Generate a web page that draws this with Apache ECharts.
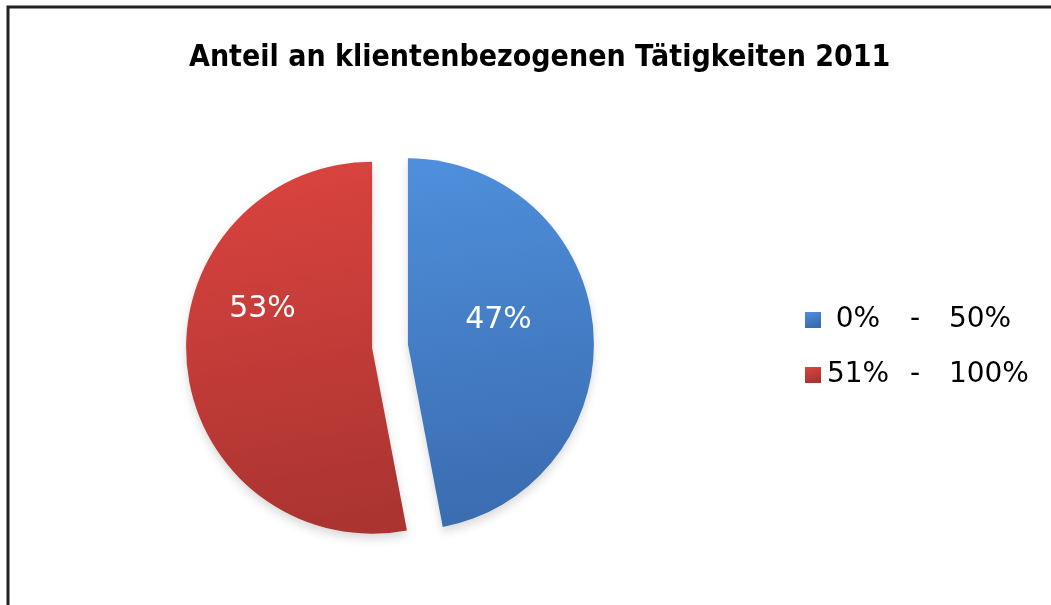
<!DOCTYPE html>
<html>
<head>
<meta charset="utf-8">
<script src="https://cdn.jsdelivr.net/npm/echarts@6/dist/echarts.min.js"></script>
<style>
  html, body { margin: 0; padding: 0; background: #fff; }
  #chart { width: 1051px; height: 605px; }
</style>
</head>
<body>
<div id="chart"></div>
<script>
// Daten
const categories = ['0%  -  50%', '51%  -  100%']
const values = [47, 53]
const sliceColors = [
  ['#4f8fdc', '#3a6cb0'],
  ['#dc443f', '#ab3431']
]

const chart = echarts.init(document.getElementById('chart'))

// Label-Verschiebung: horizontal per padding, vertikal per leerer Zusatzzeile
const labelPads = [[0, 10, 0, 0], [0, 28, 0, 0]]
const labelLift = [30, 96]

const pieData = categories.map((name, i) => ({
  name: name,
  value: values[i],
  selected: true,
  itemStyle: {
    color: new echarts.graphic.LinearGradient(0, 0, 0.3, 1, [
      { offset: 0, color: sliceColors[i][0] },
      { offset: 1, color: sliceColors[i][1] }
    ])
  },
  label: {
    padding: labelPads[i],
    formatter: '{v|{d}%}\n{g|}',
    rich: {
      v: { color: '#fff', fontFamily: 'DejaVu Sans', fontSize: 30, lineHeight: 34 },
      g: { height: labelLift[i], lineHeight: labelLift[i], fontSize: 1 }
    }
  }
}))

const option = {
  backgroundColor: '#fff',
  animation: false,
  title: {
    text: 'Anteil an klientenbezogenen Tätigkeiten 2011',
    left: 184,
    top: 38,
    textStyle: {
      fontFamily: 'DejaVu Sans Condensed',
      fontWeight: 'bold',
      fontSize: 30,
      color: '#000'
    }
  },
  legend: {
    orient: 'vertical',
    left: 805,
    top: 306,
    padding: 0,
    itemWidth: 16,
    itemHeight: 16,
    itemGap: 27,
    icon: 'rect',
    selectedMode: false,
    data: categories,
    formatter: name => {
      const parts = name.split('-').map(s => s.trim())
      return '{a|' + parts[0] + '}{b|-}{c| ' + parts[1] + '}'
    },
    textStyle: {
      fontFamily: 'DejaVu Sans',
      fontSize: 28,
      color: '#000',
      rich: {
        a: { fontFamily: 'DejaVu Sans', fontSize: 28, width: 64, align: 'right' },
        b: { fontFamily: 'DejaVu Sans', fontSize: 28, width: 50, align: 'center' },
        c: { fontFamily: 'DejaVu Sans', fontSize: 28, align: 'left' }
      }
    }
  },
  graphic: [{
    type: 'rect',
    shape: { x: 8, y: 7, width: 1200, height: 800 },
    style: { fill: 'none', stroke: '#222', lineWidth: 3 },
    silent: true
  }],
  series: [{
    type: 'pie',
    center: [390, 346],
    radius: 186,
    startAngle: 90,
    clockwise: true,
    selectedMode: 'multiple',
    selectedOffset: 18,
    avoidLabelOverlap: false,
    itemStyle: {
      borderWidth: 0,
      shadowBlur: 10,
      shadowOffsetY: 5,
      shadowColor: 'rgba(0,0,0,0.15)'
    },
    label: {
      show: true,
      position: 'inside',
      color: '#fff',
      fontFamily: 'DejaVu Sans',
      fontSize: 30
    },
    labelLine: { show: false },
    emphasis: { disabled: true },
    data: pieData
  }]
}

chart.setOption(option)
</script>
</body>
</html>
